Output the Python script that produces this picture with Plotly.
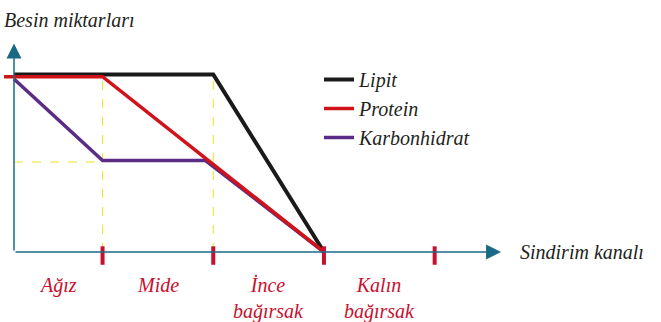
import plotly.graph_objects as go

# ---- data ----
segments = ["Ağız", "Mide", "İnce<br>bağırsak", "Kalın<br>bağırsak"]
boundaries = [0.2, 1, 2, 3, 4]          # start of canal, then end of each segment
series_names = ["Lipit", "Protein", "Karbonhidrat"]
lipit_x = [0.2, 2, 3]
lipit_y = [100, 100, 0]
protein_x = [0.11, 1, 3]
protein_y = [98.8, 98.8, 0]
karb_x = [0.2, 1, 1.93, 3]
karb_y = [97.5, 51.5, 51.5, 0]
guide_level = 50.7

# ---- style ----
FONT = "Liberation Serif"
TXT = "#231f20"
RED = "#c8102e"
AX = "#1a6a86"
YEL = "#f2e31a"

W, H = 661, 322
XMIN, XMAX = 0.0735, 6.0447
YMIN, YMAX = -39.44, 141.97

fig = go.Figure()

fig.add_trace(go.Scatter(x=karb_x, y=karb_y, mode="lines", name=series_names[2],
                         line=dict(color="#5b2c86", width=3.5), legendrank=3))
fig.add_trace(go.Scatter(x=lipit_x, y=lipit_y, mode="lines", name=series_names[0],
                         line=dict(color="#1a1a1a", width=4), legendrank=1))
fig.add_trace(go.Scatter(x=protein_x, y=protein_y, mode="lines", name=series_names[1],
                         line=dict(color="#d0121b", width=3.5), legendrank=2))

shapes = []
shapes.append(dict(type="line", xref="x", yref="y", x0=boundaries[1], x1=boundaries[1],
                   y0=0, y1=protein_y[1], line=dict(color=YEL, width=1, dash="dash"), layer="below"))
shapes.append(dict(type="line", xref="x", yref="y", x0=boundaries[2], x1=boundaries[2],
                   y0=0, y1=lipit_y[1], line=dict(color=YEL, width=1, dash="dash"), layer="below"))
shapes.append(dict(type="line", xref="x", yref="y", x0=boundaries[0], x1=boundaries[1],
                   y0=guide_level, y1=guide_level, line=dict(color=YEL, width=1, dash="dash"), layer="below"))
for b in boundaries[1:]:
    shapes.append(dict(type="line", xref="x", yref="y", x0=b, x1=b, y0=-7.2, y1=3.2,
                       line=dict(color=RED, width=4)))

annotations = []
annotations.append(dict(x=boundaries[0], y=117.5, ax=boundaries[0], ay=0, xref="x", yref="y",
                        axref="x", ayref="y", text="", showarrow=True, arrowhead=2,
                        arrowsize=2.0, arrowwidth=1.5, arrowcolor=AX))
annotations.append(dict(x=4.6, y=0, ax=boundaries[0], ay=0, xref="x", yref="y",
                        axref="x", ayref="y", text="", showarrow=True, arrowhead=2,
                        arrowsize=2.0, arrowwidth=1.5, arrowcolor=AX))
for i, s in enumerate(segments):
    mid = (boundaries[i] + boundaries[i + 1]) / 2
    annotations.append(dict(x=mid, y=-11.5, xref="x", yref="y", text=s, showarrow=False,
                            xanchor="center", yanchor="top",
                            font=dict(family=FONT, size=20, color=RED, style="italic")))
annotations.append(dict(x=4.75, y=0, xref="x", yref="y", text="Sindirim kanalı", showarrow=False,
                        xanchor="left", yanchor="middle",
                        font=dict(family=FONT, size=20, color=TXT, style="italic")))
annotations.append(dict(x=2 / W, y=1 - 20 / H, xref="paper", yref="paper", text="Besin miktarları",
                        showarrow=False, xanchor="left", yanchor="middle",
                        font=dict(family=FONT, size=20, color=TXT, style="italic")))

fig.update_layout(
    width=W, height=H,
    margin=dict(l=0, r=0, t=0, b=0),
    paper_bgcolor="white", plot_bgcolor="white",
    xaxis=dict(range=[XMIN, XMAX], visible=False, fixedrange=True),
    yaxis=dict(range=[YMIN, YMAX], visible=False, fixedrange=True),
    shapes=shapes, annotations=annotations,
    showlegend=True,
    legend=dict(x=319 / W, y=1 - 60 / H, xanchor="left", yanchor="top",
                bgcolor="rgba(0,0,0,0)", traceorder="normal", itemwidth=30,
                tracegroupgap=0,
                font=dict(family=FONT, size=20, color=TXT, style="italic")),
)

fig.write_html("out.html")
